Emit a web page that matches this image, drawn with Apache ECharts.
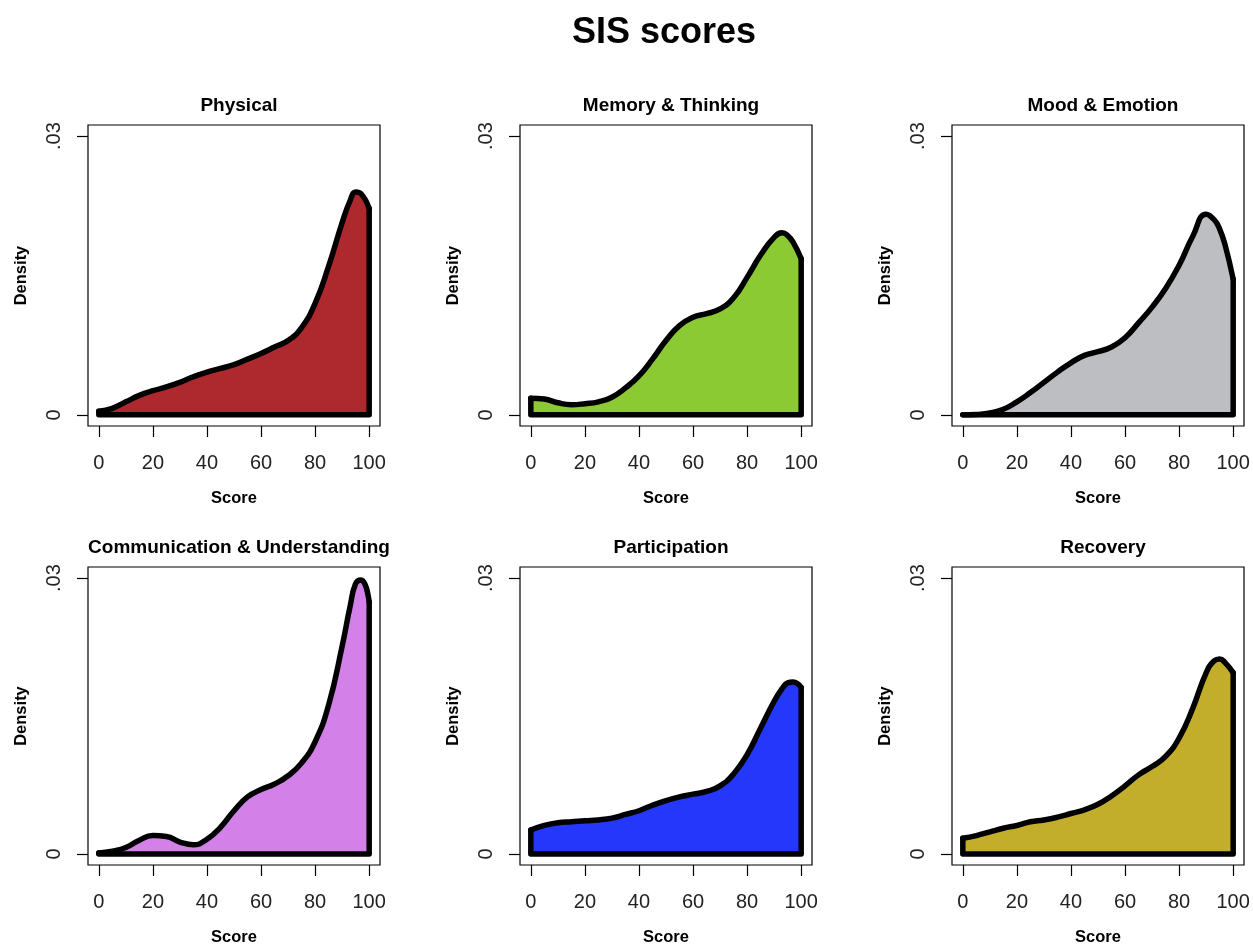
<!DOCTYPE html>
<html>
<head>
<meta charset="utf-8">
<title>SIS scores</title>
<script src="https://cdn.jsdelivr.net/npm/echarts@6/dist/echarts.min.js"></script>
<style>
  html, body { margin: 0; padding: 0; background: #fff; }
  #chart { width: 1253px; height: 947px; }
</style>
</head>
<body>
<div id="chart"></div>
<script>
// score grid (x) shared by all panels
var scores = [0, 5, 10, 15, 20, 25, 30, 35, 40, 45, 50, 55, 60, 65, 70, 75, 80, 85, 90, 93, 95, 97, 100];

// density values
var physical      = [0.0004, 0.0007, 0.0014, 0.0021, 0.0026, 0.0030, 0.0035, 0.0041, 0.0046, 0.0050, 0.0054, 0.0060, 0.0066, 0.0073, 0.0080, 0.0094, 0.0120, 0.0160, 0.0207, 0.0231, 0.0240, 0.0238, 0.0222];
var memory        = [0.0018, 0.0017, 0.0013, 0.0011, 0.0012, 0.0014, 0.0019, 0.0029, 0.0042, 0.0060, 0.0080, 0.0096, 0.0105, 0.0109, 0.0114, 0.0126, 0.0148, 0.0172, 0.0191, 0.0196, 0.0193, 0.0186, 0.0168];
var mood          = [0.0000, 0.00005, 0.0002, 0.0006, 0.0014, 0.0024, 0.0035, 0.0046, 0.0056, 0.0064, 0.0068, 0.0073, 0.0083, 0.0099, 0.0116, 0.0136, 0.0161, 0.0192, 0.0216, 0.0210, 0.0200, 0.0183, 0.0146];
var communication = [0.0001, 0.0003, 0.0007, 0.0015, 0.0020, 0.0019, 0.0013, 0.0010, 0.0016, 0.0029, 0.0047, 0.0062, 0.0070, 0.0076, 0.0085, 0.0099, 0.0122, 0.0162, 0.0226, 0.0270, 0.0294, 0.0298, 0.0274];
var participation = [0.0026, 0.0031, 0.0034, 0.0035, 0.0036, 0.0037, 0.0039, 0.0043, 0.0047, 0.0053, 0.0058, 0.0062, 0.0065, 0.0068, 0.0074, 0.0087, 0.0108, 0.0137, 0.0166, 0.0180, 0.0186, 0.0187, 0.0181];
var recovery      = [0.0017, 0.0020, 0.0024, 0.0028, 0.0031, 0.0035, 0.0037, 0.0040, 0.0044, 0.0048, 0.0054, 0.0063, 0.0074, 0.0086, 0.0095, 0.0106, 0.0126, 0.0158, 0.0197, 0.0210, 0.0212, 0.0208, 0.0197];

var panelTitles = ["Physical", "Memory & Thinking", "Mood & Emotion", "Communication & Understanding", "Participation", "Recovery"];
var panelData = [physical, memory, mood, communication, participation, recovery];
var panelColors = ["#ad292d", "#8bca32", "#bcbec1", "#d381e9", "#2437fb", "#c3ae2c"];

// tick labels
var xTicks = [0, 20, 40, 60, 80, 100];
var yTicks = [0, 0.03];
var yTickLabels = ["0", ".03"];

var FONT = "'Liberation Sans', Arial, Helvetica, sans-serif";
var gridLefts = [88, 520, 952];
var gridTops = [125, 567];
var gridW = 292, gridH = 301;

function yLabel(v) {
	for (var k = 0; k < yTicks.length; k++) {
		if (Math.abs(yTicks[k] - v) < 1e-9) return yTickLabels[k];
	}
	return "";
}

var titles = [{
	text: "SIS scores",
	left: 659,
	top: 10,
	textAlign: "center",
	textStyle: { fontFamily: FONT, fontSize: 36, fontWeight: "bold", color: "#000" }
}];
var grids = [], xAxes = [], yAxes = [], series = [];

for (var i = 0; i < 6; i++) {
	var col = i % 3, row = Math.floor(i / 3);
	var gLeft = gridLefts[col], gTop = gridTops[row];
	var vals = panelData[i];

	titles.push({
		text: panelTitles[i],
		left: gLeft + gridW / 2,
		top: gTop - 34,
		textAlign: "center",
		textStyle: { fontFamily: FONT, fontSize: 19, fontWeight: "bold", color: "#000" }
	});

	grids.push({
		left: gLeft, top: gTop, width: gridW, height: gridH,
		show: true, borderColor: "#000", borderWidth: 1.2
	});

	xAxes.push({
		type: "value", gridIndex: i, min: -4, max: 104,
		name: "Score", nameLocation: "middle", nameGap: 64,
		nameTextStyle: { fontFamily: FONT, fontSize: 16.5, fontWeight: "bold", color: "#000" },
		axisLine: { show: false, onZero: false },
		splitLine: { show: false },
		axisTick: { show: true, length: 11, customValues: xTicks, lineStyle: { color: "#000", width: 1.2 } },
		axisLabel: { customValues: xTicks, margin: 27, fontFamily: FONT, fontSize: 20, color: "#222" }
	});

	yAxes.push({
		type: "value", gridIndex: i, min: -0.0012, max: 0.0312,
		name: "Density", nameLocation: "middle", nameGap: 58, nameRotate: 90,
		nameTextStyle: { fontFamily: FONT, fontSize: 16.5, fontWeight: "bold", color: "#000" },
		axisLine: { show: false, onZero: false },
		splitLine: { show: false },
		axisTick: { show: true, length: 11, customValues: yTicks, lineStyle: { color: "#000", width: 1.2 } },
		axisLabel: {
			customValues: yTicks, rotate: 90, margin: 24,
			fontFamily: FONT, fontSize: 20, color: "#222",
			formatter: yLabel
		}
	});

	// density curve with fill
	series.push({
		type: "line", xAxisIndex: i, yAxisIndex: i,
		data: scores.map(function(s, j) { return [s, vals[j]]; }),
		smooth: 0.5, symbol: "none", z: 3,
		lineStyle: { color: "#000", width: 5.5, cap: "round", join: "round" },
		areaStyle: { color: panelColors[i], opacity: 1 }
	});
	// polygon closing edges (right, bottom, left)
	series.push({
		type: "line", xAxisIndex: i, yAxisIndex: i,
		data: [[100, vals[vals.length - 1]], [100, 0], [0, 0], [0, vals[0]]],
		symbol: "none", z: 4,
		lineStyle: { color: "#000", width: 5.5, cap: "round", join: "round" }
	});
}

var myChart = echarts.init(document.getElementById("chart"));
myChart.setOption({
	animation: false,
	backgroundColor: "#fff",
	title: titles,
	grid: grids,
	xAxis: xAxes,
	yAxis: yAxes,
	series: series
});
</script>
</body>
</html>
